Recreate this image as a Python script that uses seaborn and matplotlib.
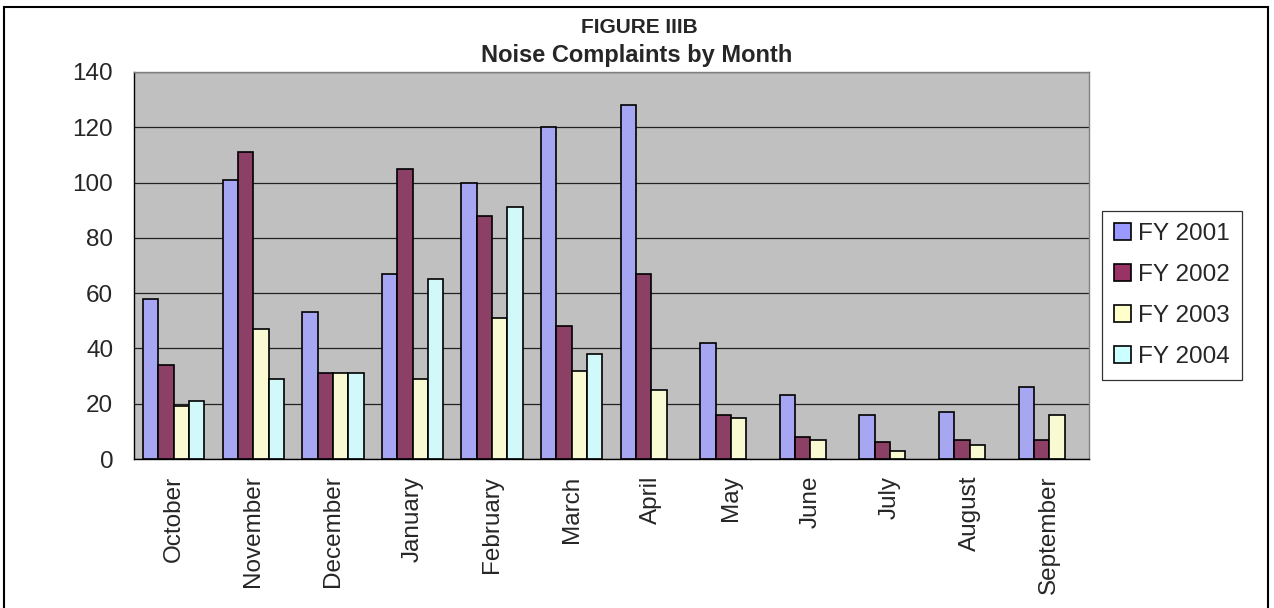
import numpy as np
import pandas as pd
import matplotlib
matplotlib.use("Agg")
import matplotlib.pyplot as plt
from matplotlib.patches import Rectangle, Patch
import seaborn as sns

# Monthly noise complaints per fiscal year
months = ["October", "November", "December", "January", "February", "March",
          "April", "May", "June", "July", "August", "September"]
fy2001 = [58, 101, 53, 67, 100, 120, 128, 42, 23, 16, 17, 26]
fy2002 = [34, 111, 31, 105, 88, 48, 67, 16, 8, 6, 7, 7]
fy2003 = [19, 47, 31, 29, 51, 32, 25, 15, 7, 3, 5, 16]
fy2004 = [21, 29, 31, 65, 91, 38, None, None, None, None, None, None]
years = ["FY 2001", "FY 2002", "FY 2003", "FY 2004"]
colors = ["#9999FF", "#993366", "#FFFFCC", "#CCFFFF"]
yticks = [0, 20, 40, 60, 80, 100, 120, 140]

rows = []
for year, vals in zip(years, [fy2001, fy2002, fy2003, fy2004]):
    for m, v in zip(months, vals):
        rows.append({"Month": m, "Year": year, "Complaints": np.nan if v is None else v})
df = pd.DataFrame(rows)

sns.set_style("white")
plt.rcParams["font.family"] = ["Liberation Sans", "DejaVu Sans"]

W, H = 1274, 608
fig = plt.figure(figsize=(W / 100, H / 100), dpi=100)
ax = fig.add_axes([134 / W, (H - 459) / H, (1089 - 134) / W, (459 - 72) / H])
ax.set_facecolor("#C0C0C0")

sns.barplot(data=df, x="Month", y="Complaints", hue="Year", order=months,
            hue_order=years, palette=colors, edgecolor="black", linewidth=1.2,
            width=0.77, ax=ax, legend=False, errorbar=None)

ax.set_xlim(-0.5, len(months) - 0.5)
ax.set_ylim(0, 140)
ax.set_yticks(yticks)
ax.set_yticklabels([str(t) for t in yticks], fontsize=17.5)
ax.set_xticks(range(len(months)))
ax.set_xticklabels(months, rotation=90, fontsize=17.5, va="top", ha="center")
ax.set_xticks(np.arange(-0.5, len(months), 1), minor=True)
ax.tick_params(axis="x", which="major", length=0, pad=12)
ax.tick_params(axis="x", which="minor", length=5, width=0.9, direction="out", color="black")
ax.tick_params(axis="y", which="major", length=5, width=0.9, direction="out", pad=10, color="black")
ax.set_xlabel("")
ax.set_ylabel("")

ax.yaxis.grid(True, color="#222222", linewidth=0.9)
ax.xaxis.grid(False)
ax.set_axisbelow(True)

for side in ["left", "bottom"]:
    ax.spines[side].set_color("black")
    ax.spines[side].set_linewidth(1.0)
for side in ["top", "right"]:
    ax.spines[side].set_color("#808080")
    ax.spines[side].set_linewidth(1.0)

handles = [Patch(facecolor=c, edgecolor="black", linewidth=1.2) for c in colors]
leg = fig.legend(handles, years, loc="upper left",
                 bbox_to_anchor=(1102 / W, 1 - 211 / H), bbox_transform=fig.transFigure,
                 fontsize=17.5, frameon=True, fancybox=False, edgecolor="black",
                 handlelength=0.7, handleheight=0.7, handletextpad=0.3,
                 labelspacing=0.78, borderpad=0.5, borderaxespad=0)
leg.get_frame().set_linewidth(0.9)

fig.text(0.502, 1 - 33 / H, "FIGURE IIIB", ha="center", va="baseline",
         fontsize=15, fontweight="bold")
fig.text(0.5, 1 - 62 / H, "Noise Complaints by Month", ha="center", va="baseline",
         fontsize=17, fontweight="bold")

fig.patches.append(Rectangle((4 / W, -0.05), (1268 - 4) / W, 1.05 - 7 / H,
                             transform=fig.transFigure, fill=False,
                             edgecolor="black", linewidth=1.5))

fig.savefig("out.png", dpi=100, facecolor="white")
